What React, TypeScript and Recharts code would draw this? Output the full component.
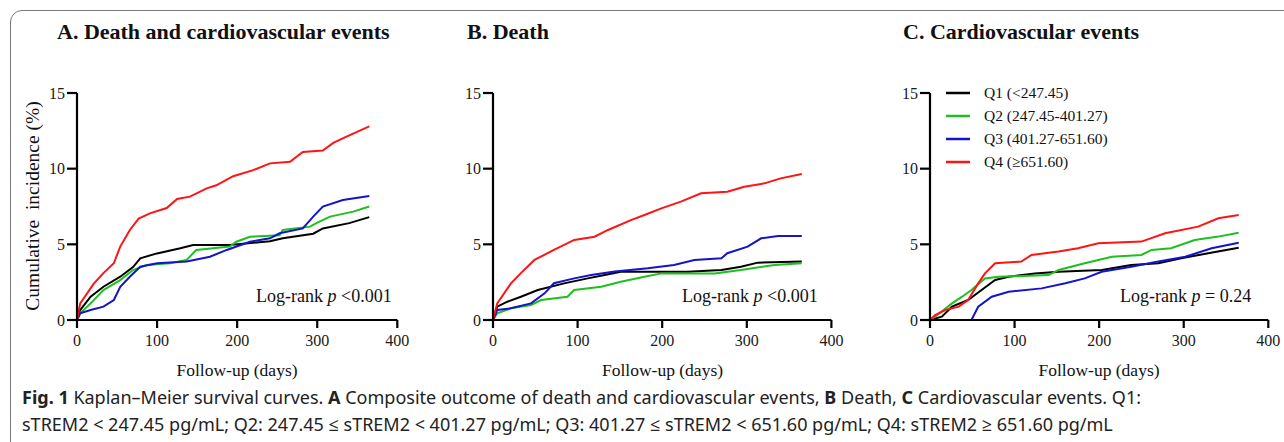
import React from "react";
import { LineChart, Line, XAxis, YAxis } from "recharts";

type Pt = [number, number];

// series: [day, cumulative incidence %]
// A. Death and cardiovascular events
const aQ1: Pt[] = [[0,0],[4,0.66],[17,1.54],[33,2.2],[54,2.86],[70,3.5],[79,4.08],[100,4.4],[129,4.74],[145,4.96],[191,4.96],[241,5.2],[257,5.4],[295,5.7],[307,6.05],[340,6.4],[365,6.8]];
const aQ2: Pt[] = [[0,0],[4,0.44],[17,1.1],[33,1.98],[54,2.64],[70,3.3],[87,3.63],[116,3.75],[137,3.97],[149,4.63],[191,4.85],[199,5.17],[216,5.5],[253,5.6],[257,5.95],[291,6.17],[299,6.4],[316,6.83],[345,7.16],[365,7.5]];
const aQ3: Pt[] = [[0,0],[4,0.44],[17,0.66],[33,0.88],[46,1.32],[54,2.2],[66,2.86],[79,3.52],[100,3.75],[137,3.86],[166,4.18],[187,4.63],[216,5.17],[241,5.4],[253,5.73],[282,6.05],[295,6.83],[307,7.5],[332,7.93],[365,8.2]];
const aQ4: Pt[] = [[0,0],[4,1.1],[21,2.4],[33,3.1],[46,3.75],[54,4.85],[66,5.95],[77,6.7],[91,7.05],[112,7.4],[125,8.0],[141,8.15],[162,8.7],[174,8.9],[195,9.5],[220,9.9],[241,10.35],[266,10.45],[282,11.1],[307,11.2],[320,11.7],[340,12.2],[365,12.8]];

// B. Death
const bQ1: Pt[] = [[0,0],[5,0.88],[17,1.21],[33,1.54],[53,1.98],[84,2.42],[112,2.75],[132,2.97],[151,3.19],[230,3.19],[270,3.3],[293,3.52],[313,3.79],[365,3.86]];
const bQ2: Pt[] = [[0,0],[5,0.44],[21,0.77],[45,0.99],[57,1.32],[88,1.54],[96,1.98],[128,2.2],[151,2.53],[179,2.86],[199,3.08],[262,3.08],[293,3.3],[333,3.64],[365,3.75]];
const bQ3: Pt[] = [[0,0],[5,0.66],[21,0.77],[45,1.1],[61,1.76],[72,2.43],[96,2.75],[116,2.97],[144,3.2],[183,3.42],[214,3.64],[238,3.97],[270,4.08],[277,4.41],[301,4.85],[317,5.4],[337,5.55],[365,5.55]];
const bQ4: Pt[] = [[0,0],[5,1.1],[21,2.4],[33,3.1],[49,3.97],[72,4.63],[96,5.29],[120,5.5],[136,5.95],[163,6.6],[179,6.94],[199,7.38],[222,7.82],[246,8.37],[277,8.48],[297,8.81],[321,9.03],[340,9.36],[365,9.65]];

// C. Cardiovascular events
const cQ1: Pt[] = [[0,0],[14,0.22],[26,0.88],[45,1.32],[61,1.98],[77,2.64],[93,2.86],[124,3.08],[152,3.19],[203,3.3],[238,3.64],[270,3.75],[297,4.08],[329,4.41],[365,4.78]];
const cQ2: Pt[] = [[0,0],[6,0.22],[26,1.1],[38,1.54],[49,1.98],[65,2.75],[81,2.86],[140,2.97],[152,3.3],[183,3.75],[215,4.18],[250,4.3],[262,4.63],[285,4.74],[313,5.29],[341,5.51],[365,5.77]];
const cQ3: Pt[] = [[0,0],[49,0],[57,0.88],[73,1.54],[93,1.87],[132,2.09],[160,2.43],[183,2.75],[203,3.19],[238,3.52],[270,3.86],[302,4.18],[333,4.74],[365,5.1]];
const cQ4: Pt[] = [[0,0],[6,0.33],[18,0.66],[34,0.88],[45,1.32],[57,2.42],[65,3.08],[77,3.75],[108,3.86],[120,4.3],[152,4.52],[175,4.74],[199,5.07],[250,5.18],[278,5.73],[317,6.17],[341,6.72],[365,6.94]];

const X_TICKS = [0, 100, 200, 300, 400];
const Y_TICKS = [0, 5, 10, 15];
const GROUPS = ["Q1 (<247.45)", "Q2 (247.45-401.27)", "Q3 (401.27-651.60)", "Q4 (\u2265651.60)"];
const COLORS = ["#000000", "#1fbf1f", "#1414c8", "#ff1414"];

const SERIF = "'Liberation Serif', 'Times New Roman', serif";
const SANS = "'Noto Sans', 'Open Sans', sans-serif";

const toRows = (pts: Pt[]) => pts.map(([d, v]) => ({ d, v }));

const PLOT_TOP = 93;
const PLOT_H = 227;
const Y_W = 50;

function LegendBox({ x, y }: { x: number; y: number }) {
  return (
    <div style={{ position: "absolute", left: x, top: y, fontFamily: SERIF, fontSize: 15.5, color: "#111" }}>
      {GROUPS.map((g, i) => (
        <div key={g} style={{ display: "flex", alignItems: "center", height: 23 }}>
          <svg width={24} height={4} style={{ marginRight: 14 }}>
            <line x1={0} y1={2} x2={24} y2={2} stroke={COLORS[i]} strokeWidth={2.5} />
          </svg>
          <span>{g}</span>
        </div>
      ))}
    </div>
  );
}

interface PanelProps {
  plotLeft: number;
  plotWidth: number;
  series: Pt[][];
}

function KMPanel({ plotLeft, plotWidth, series }: PanelProps) {
  const tick = { fontFamily: SERIF, fontSize: 16, fill: "#1a1a1a" };
  const axis = { stroke: "#000", strokeWidth: 2.2 };
  return (
    <div style={{ position: "absolute", left: plotLeft - Y_W, top: PLOT_TOP - 10, fontFamily: SERIF }}>
      <LineChart width={Y_W + plotWidth + 30} height={10 + PLOT_H + 40} margin={{ top: 10, right: 30, bottom: 0, left: 0 }}>
        <XAxis type="number" dataKey="d" domain={[0, 400]} ticks={X_TICKS} allowDataOverflow
          tick={tick} tickSize={8} tickMargin={7} axisLine={axis} tickLine={axis} height={40} />
        <YAxis type="number" domain={[0, 15]} ticks={Y_TICKS} allowDataOverflow width={Y_W}
          tick={tick} tickSize={10} tickMargin={2} axisLine={axis} tickLine={axis} />
        {series.map((s, i) => (
          <Line key={i} data={toRows(s)} dataKey="v" type="linear" stroke={COLORS[i]}
            strokeWidth={2} dot={false} isAnimationActive={false} name={GROUPS[i]} />
        ))}
      </LineChart>
    </div>
  );
}

const abs = (left: number, top: number): React.CSSProperties => ({ position: "absolute", left, top, whiteSpace: "pre" });

function Title({ x, text }: { x: number; text: string }) {
  return <div style={{ ...abs(x, 19), fontFamily: SERIF, fontWeight: 700, fontSize: 22, color: "#111" }}>{text}</div>;
}

function XLabel({ cx }: { cx: number }) {
  return (
    <div style={{ ...abs(cx, 360), transform: "translateX(-50%)", fontFamily: SERIF, fontSize: 17.5, color: "#111" }}>
      Follow-up (days)
    </div>
  );
}

function LogRank({ x, rest }: { x: number; rest: string }) {
  return (
    <div style={{ ...abs(x, 286), fontFamily: SERIF, fontSize: 18, color: "#111" }}>
      Log-rank <i>p</i> {rest}
    </div>
  );
}

export default function App() {
  return (
    <div style={{ position: "absolute", left: 0, top: 0, width: 1284, height: 442, overflow: "hidden", background: "#fff" }}>
      <div style={{ position: "absolute", left: 10, top: 10, width: 1400, height: 600, border: "1.5px solid #777", borderRadius: 12 }} />

      <Title x={57} text="A. Death and cardiovascular events" />
      <Title x={467} text="B. Death" />
      <Title x={903} text="C. Cardiovascular events" />

      <div style={{ ...abs(33, 206), transform: "translate(-50%, -50%) rotate(-90deg)", fontFamily: SERIF, fontSize: 19.5, color: "#111" }}>
        Cumulative  incidence (%)
      </div>

      <KMPanel plotLeft={76.7} plotWidth={320.3} series={[aQ1, aQ2, aQ3, aQ4]} />
      <KMPanel plotLeft={493.3} plotWidth={338.4} series={[bQ1, bQ2, bQ3, bQ4]} />
      <KMPanel plotLeft={930} plotWidth={338.3} series={[cQ1, cQ2, cQ3, cQ4]} />
      <LegendBox x={946} y={81} />

      <LogRank x={256} rest="<0.001" />
      <LogRank x={682} rest="<0.001" />
      <LogRank x={1120} rest="= 0.24" />

      <XLabel cx={237} />
      <XLabel cx={662.5} />
      <XLabel cx={1099} />

      <div style={{ position: "absolute", left: 22, top: 384, fontFamily: SANS, fontSize: 18, lineHeight: "27px", color: "#222", width: 1250 }}>
        <div style={{ whiteSpace: "nowrap" }}>
          <b>Fig. 1</b>{"  "}Kaplan–Meier survival curves. <b>A</b> Composite outcome of death and cardiovascular events, <b>B</b> Death, <b>C</b> Cardiovascular events. Q1:
        </div>
        <div style={{ whiteSpace: "nowrap" }}>
          sTREM2 &lt; 247.45 pg/mL; Q2: 247.45 ≤ sTREM2 &lt; 401.27 pg/mL; Q3: 401.27 ≤ sTREM2 &lt; 651.60 pg/mL; Q4: sTREM2 ≥ 651.60 pg/mL
        </div>
      </div>
    </div>
  );
}
